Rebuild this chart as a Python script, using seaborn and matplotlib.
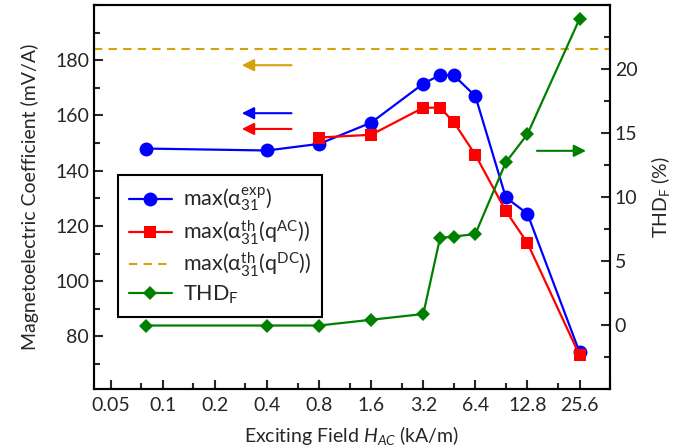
import numpy as np
import pandas as pd
import matplotlib.pyplot as plt
import matplotlib.ticker as mticker
import seaborn as sns

# exciting field H_AC (kA/m)
h_exp = [0.08, 0.4, 0.8, 1.6, 3.2, 4.0, 4.8, 6.4, 9.6, 12.8, 25.6]
alpha_exp = [148, 147.3, 149.7, 157.4, 171.5, 174.6, 174.5, 167, 130.3, 124.4, 74.3]

h_th = [0.8, 1.6, 3.2, 4.0, 4.8, 6.4, 9.6, 12.8, 25.6]
alpha_th_ac = [152, 153, 162.8, 162.8, 157.6, 145.7, 125.4, 113.8, 73.2]

alpha_th_dc = 184.2

thd = [-0.05, -0.05, -0.05, 0.4, 0.85, 6.8, 6.9, 7.1, 12.7, 14.9, 23.9]

xticks = [0.05, 0.1, 0.2, 0.4, 0.8, 1.6, 3.2, 6.4, 12.8, 25.6]
xtick_labels = ['0.05', '0.1', '0.2', '0.4', '0.8', '1.6', '3.2', '6.4', '12.8', '25.6']
yticks_left = [80, 100, 120, 140, 160, 180]
yticks_right = [0, 5, 10, 15, 20]

sns.set_style('ticks')
plt.rcParams['font.family'] = ['Lato', 'DejaVu Sans']
plt.rcParams['mathtext.fontset'] = 'custom'
plt.rcParams['mathtext.rm'] = 'Lato'
plt.rcParams['mathtext.it'] = 'Lato:italic'
plt.rcParams['font.size'] = 14
plt.rcParams['axes.linewidth'] = 1.5

df_exp = pd.DataFrame({'H': h_exp, 'alpha': alpha_exp, 'thd': thd})
df_th = pd.DataFrame({'H': h_th, 'alpha': alpha_th_ac})

fig, ax = plt.subplots(figsize=(6.77, 4.48), dpi=100)
fig.subplots_adjust(left=0.139, right=0.901, top=0.989, bottom=0.132)
ax2 = ax.twinx()

sns.lineplot(data=df_exp, x='H', y='alpha', ax=ax, color='#0000ff', marker='o',
             markersize=10, markeredgewidth=0, linewidth=1.6,
             label=r'max(α$_{31}^{\rm exp}$)', legend=False)
sns.lineplot(data=df_th, x='H', y='alpha', ax=ax, color='#ff0000', marker='s',
             markersize=9, markeredgewidth=0, linewidth=1.6,
             label=r'max(α$_{31}^{\rm th}$(q$^{\rm AC}$))', legend=False)
ax.axhline(alpha_th_dc, color='#d4a20c', linestyle='--', linewidth=1.5,
           dashes=(4, 3), label=r'max(α$_{31}^{\rm th}$(q$^{\rm DC}$))')
sns.lineplot(data=df_exp, x='H', y='thd', ax=ax2, color='#008000', marker='D',
             markersize=7.5, markeredgewidth=0, linewidth=1.6,
             label=r'THD$_{\rm F}$', legend=False)

ax.set_xscale('log', base=2)
ax.set_xlim(0.04, 38.4)
ax.xaxis.set_major_locator(mticker.FixedLocator(xticks))
ax.xaxis.set_major_formatter(mticker.FixedFormatter(xtick_labels))
ax.xaxis.set_minor_locator(mticker.FixedLocator([t * 1.5 for t in xticks]))
ax.xaxis.set_minor_formatter(mticker.NullFormatter())

ax.set_ylim(61, 200)
ax.yaxis.set_major_locator(mticker.FixedLocator(yticks_left))
ax.yaxis.set_minor_locator(mticker.MultipleLocator(10))
ax2.set_ylim(-5, 25)
ax2.yaxis.set_major_locator(mticker.FixedLocator(yticks_right))
ax2.yaxis.set_minor_locator(mticker.MultipleLocator(2.5))

ax.set_xlabel(r'Exciting Field $H_{AC}$ (kA/m)', fontsize=14, labelpad=7)
ax.set_ylabel('Magnetoelectric Coefficient (mV/A)', fontsize=14, labelpad=12)
ax2.set_ylabel(r'THD$_{\rm F}$ (%)', fontsize=14, labelpad=8)

for a in (ax, ax2):
    a.tick_params(which='major', direction='in', length=6.5, width=1.5, labelsize=14)
    a.tick_params(which='minor', direction='in', length=4, width=1.5)
    for s in a.spines.values():
        s.set_linewidth(1.5)
        s.set_color('black')
ax.tick_params(axis='x', which='major', pad=6)
ax.tick_params(top=False, right=False)
ax2.tick_params(axis='x', top=False)

# arrows pointing to the relevant axis
def arrow(y, x0, x1, color):
    ax.annotate('', xy=(x1, y), xytext=(x0, y), xycoords='axes fraction',
                arrowprops=dict(arrowstyle='-|>', color=color, lw=1.5,
                                mutation_scale=18))

arrow(0.843, 0.388, 0.281, '#d4a20c')
arrow(0.718, 0.388, 0.281, '#0000ff')
arrow(0.677, 0.388, 0.281, '#ff0000')
arrow(0.620, 0.853, 0.959, '#008000')

h1, l1 = ax.get_legend_handles_labels()
h2, l2 = ax2.get_legend_handles_labels()
leg = ax2.legend(h1 + h2, l1 + l2, loc='upper left', bbox_to_anchor=(0.0465, 0.557),
                 borderaxespad=0, fontsize=15.5, frameon=True, fancybox=False,
                 edgecolor='black', handlelength=2.0, borderpad=0.5,
                 labelspacing=0.2, handletextpad=0.5)
leg.get_frame().set_linewidth(1.5)
leg.get_frame().set_alpha(1)

fig.savefig('out.png', dpi=100)
